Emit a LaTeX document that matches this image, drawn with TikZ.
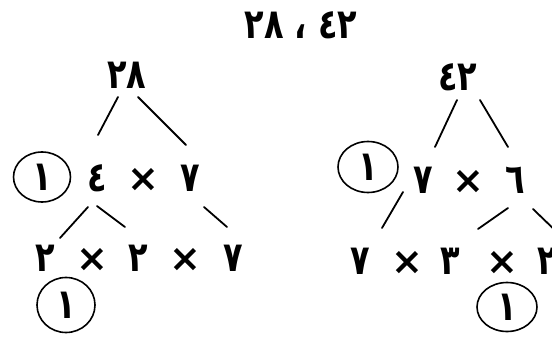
\documentclass[tikz,border=0pt]{standalone}
\usepackage{fontspec}
\newfontfamily\arnum{DejaVu Sans}
\usetikzlibrary{shapes.geometric}
\newcommand{\tallnum}[1]{\scalebox{1}[1.3]{#1}}
\begin{document}
\begin{tikzpicture}[x=1pt,y=-1pt,
  num/.style={font=\arnum\bfseries\fontsize{32}{34}\selectfont, inner sep=0pt},
  tms/.style={font=\arnum\bfseries\fontsize{38}{40}\selectfont, inner sep=0pt},
  ring/.style={draw, ellipse, line width=1.6pt, inner sep=0pt,
    font=\arnum\bfseries\fontsize{32}{34}\selectfont},
  br/.style={line width=1.8pt, line cap=round}]
\useasboundingbox (0,0) rectangle (552,337);
\clip (0,0) rectangle (552,337);
% title
\node[num] (title) at (301,25) {\tallnum{٢٨ ، ٤٢}};
% left tree
\node[num] (a) at (127,75) {\tallnum{٢٨}};
\node[ring, minimum width=57pt, minimum height=50pt] (ac) at (42,177) {\tallnum{١}};
\node[num] (a4) at (97,178) {\tallnum{٤}};
\node[tms] (ax) at (143,180) {×};
\node[num] (a7) at (190,178) {\tallnum{٧}};
\node[num] (b1) at (45,258) {\tallnum{٢}};
\node[tms] (bx1) at (92,260) {×};
\node[num] (b3) at (138,258) {\tallnum{٢}};
\node[tms] (bx2) at (185,260) {×};
\node[num] (b5) at (233,258) {\tallnum{٧}};
\node[ring, minimum width=58pt, minimum height=55pt] (bc) at (66,305) {\tallnum{١}};
\draw[br] ([shift={(-9,22)}]a.center) -- ([shift={(1,-43)}]a4.center);
\draw[br] ([shift={(11,22)}]a.center) -- ([shift={(-4,-33)}]a7.center);
\draw[br] ([shift={(-9,29)}]a4.center) -- ([shift={(15,-20)}]b1.center);
\draw[br] ([shift={(0,28)}]a4.center) -- ([shift={(-13,-31)}]b3.center);
\draw[br] ([shift={(14,29)}]a7.center) -- ([shift={(-6,-31)}]b5.center);
% right tree
\node[num] (r) at (458,77) {\tallnum{٤٢}};
\node[ring, minimum width=60pt, minimum height=51pt] (rc) at (368,167) {\tallnum{١}};
\node[num] (r7) at (423,180) {\tallnum{٧}};
\node[tms] (rx) at (468,182) {×};
\node[num] (r6) at (515,180) {\tallnum{٦}};
\node[num] (c1) at (360,261) {\tallnum{٧}};
\node[tms] (cx1) at (407,263) {×};
\node[num] (c3) at (450,261) {\tallnum{٣}};
\node[tms] (cx2) at (502,263) {×};
\node[num] (c5) at (547,261) {\tallnum{٢}};
\node[ring, minimum width=60pt, minimum height=49pt] (cc) at (507,307) {\tallnum{١}};
\draw[br] ([shift={(-1,23)}]r.center) -- ([shift={(12,-33)}]r7.center);
\draw[br] ([shift={(22,23)}]r.center) -- ([shift={(-7,-33)}]r6.center);
\draw[br] ([shift={(-20,12)}]r7.center) -- ([shift={(22,-33)}]c1.center);
\draw[br] ([shift={(-7,28)}]r6.center) -- ([shift={(28,-32)}]c3.center);
\draw[br] ([shift={(18,29)}]r6.center) -- ([shift={(14,-25)}]c5.center);
\end{tikzpicture}
\end{document}
